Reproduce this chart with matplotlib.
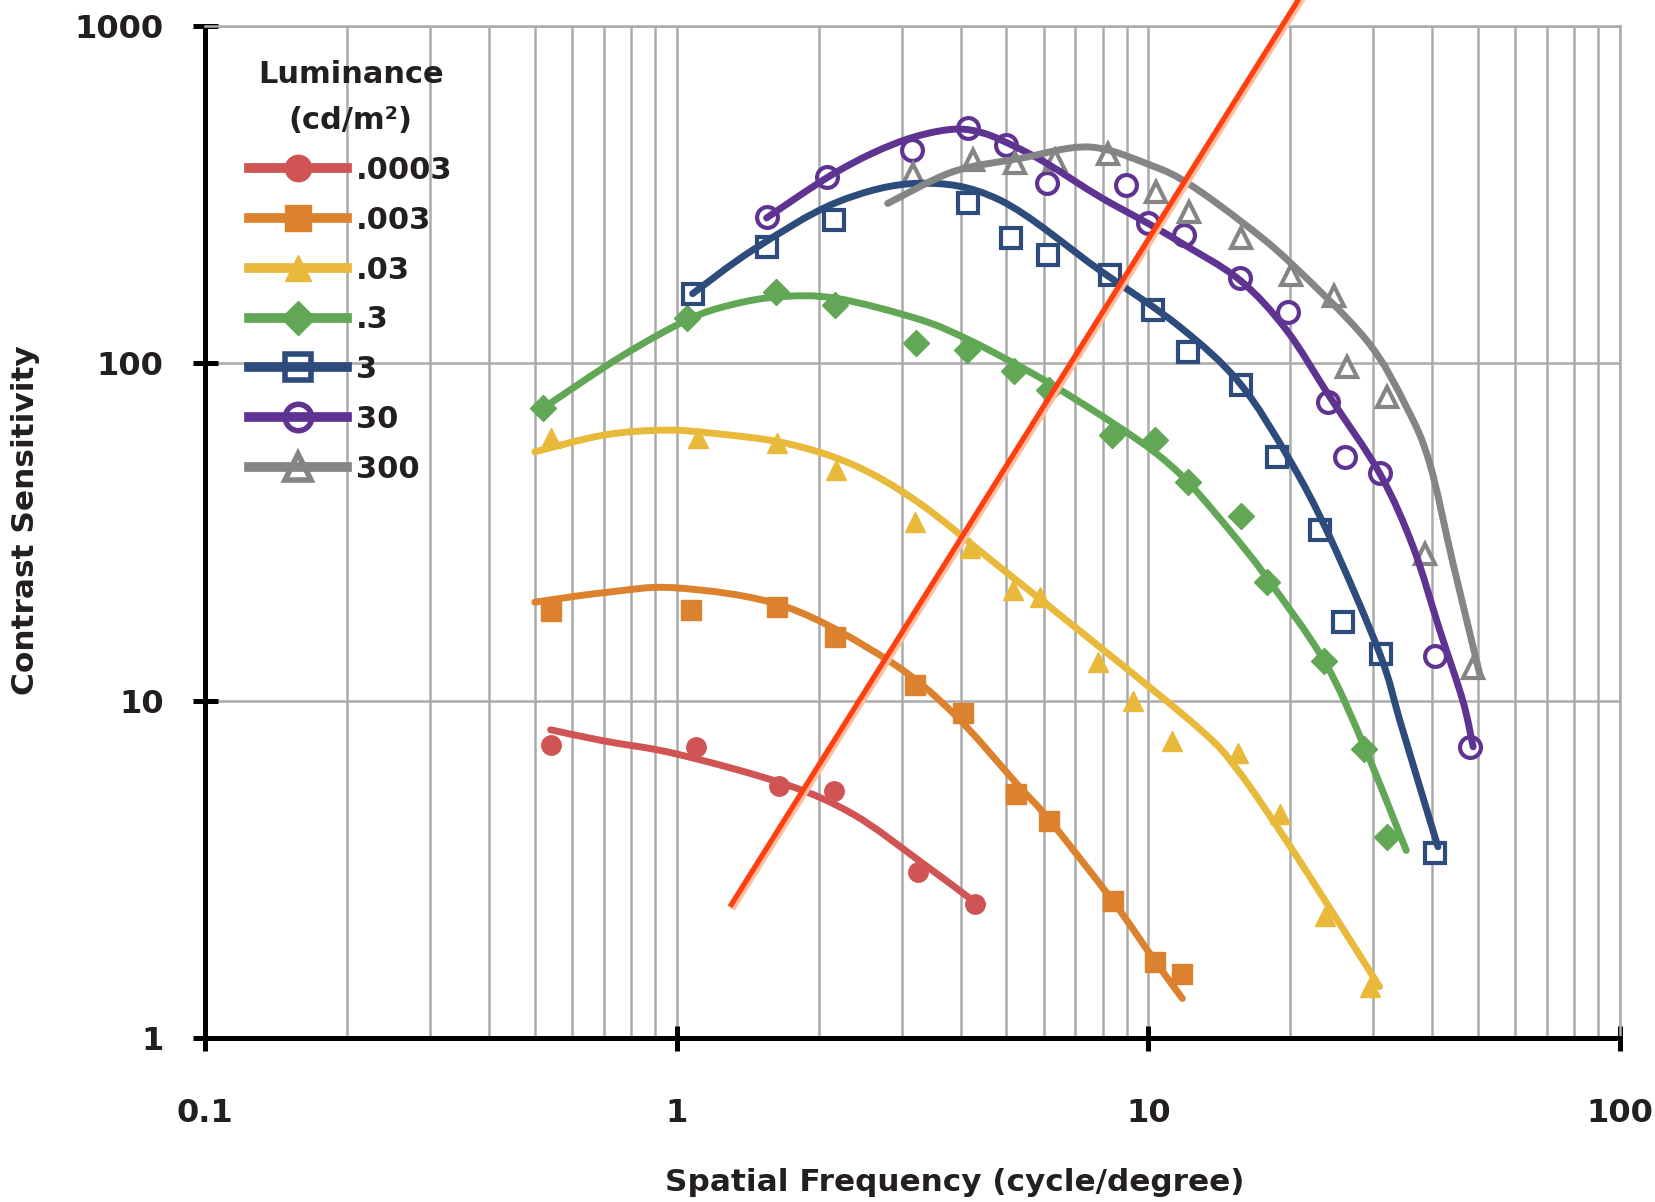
import matplotlib
matplotlib.use("Agg")
import numpy as np
import matplotlib.pyplot as plt
import matplotlib.patheffects as pe
from matplotlib.lines import Line2D
from matplotlib.path import Path
from matplotlib.patches import PathPatch
from matplotlib.legend_handler import HandlerTuple
from matplotlib.ticker import LogLocator, NullFormatter, NullLocator

plt.rcParams['font.family'] = ['DejaVu Sans']
plt.rcParams['font.weight'] = 'bold'

TXT = '#231f20'

# luminance levels (cd/m2) used as legend labels
labels = ['.0003', '.003', '.03', '.3', '3', '30', '300']
colors = ['#d05454', '#dc822e', '#e8b93a', '#62a755', '#2d4b7b', '#5f3391', '#858585']
markers = ['o', 's', '^', 'D', 's', 'o', '^']
filled = [True, True, True, True, False, False, False]

# measured points: spatial frequency (cycle/deg) and contrast sensitivity
x_0003 = [0.54, 1.10, 1.65, 2.15, 3.25, 4.28]
y_0003 = [7.4, 7.3, 5.6, 5.4, 3.1, 2.5]
x_003 = [0.54, 1.07, 1.63, 2.16, 3.2, 4.05, 5.25, 6.15, 8.4, 10.3, 11.8]
y_003 = [18.4, 18.6, 19.0, 15.4, 11.1, 9.2, 5.3, 4.4, 2.55, 1.68, 1.55]
x_03 = [0.54, 1.11, 1.63, 2.18, 3.2, 4.18, 5.16, 5.88, 7.82, 9.28, 11.2, 15.5, 19.0, 23.7, 29.5]
y_03 = [59.9, 59.9, 57.9, 48.3, 33.9, 28.4, 21.3, 20.3, 13.0, 10.0, 7.6, 7.0, 4.6, 2.3, 1.42]
x_3e = [0.52, 1.05, 1.62, 2.16, 3.21, 4.13, 5.19, 6.15, 8.38, 10.3, 12.1, 15.7, 17.8, 23.6, 28.7, 32.0]
y_3e = [73.6, 136, 163, 149, 115, 109.5, 95, 83.5, 61.3, 59.1, 44.6, 35.3, 22.5, 13.1, 7.2, 3.95]
x_3 = [1.08, 1.55, 2.15, 4.15, 5.12, 6.13, 8.28, 10.2, 12.1, 15.7, 18.7, 23.1, 25.9, 31.1, 40.5]
y_3 = [161, 222, 266, 298, 235, 209.5, 182.7, 144, 108, 86.2, 52.9, 32.1, 17.1, 13.8, 3.53]
x_30 = [1.55, 2.08, 3.15, 4.14, 5.0, 6.08, 8.98, 9.98, 11.9, 15.6, 19.8, 24.0, 26.1, 30.9, 40.5, 48.0]
y_30 = [272, 357, 430, 500, 443, 342, 338, 260, 240, 178.6, 142, 76.9, 52.9, 47.2, 13.6, 7.3]
x_300 = [3.17, 4.25, 5.21, 6.33, 8.21, 10.4, 12.2, 15.7, 20.1, 24.7, 26.3, 32.0, 38.5, 48.8]
y_300 = [365, 400, 392, 401, 419, 323, 281, 235, 183, 158, 97.7, 79.6, 27.3, 12.5]

# fitted curves
fx_0003 = [0.54, 0.70, 1.0, 1.7, 2.37, 3.27, 4.25]
fy_0003 = [8.2, 7.6, 6.95, 5.65, 4.6, 3.35, 2.55]
fx_003 = [0.5, 0.7, 1.0, 1.7, 2.8, 3.85, 5.3, 6.15, 8.4, 10.3, 11.8]
fy_003 = [19.6, 20.9, 21.6, 19.0, 13.2, 9.2, 5.6, 4.45, 2.55, 1.7, 1.31]
fx_03 = [0.5, 0.7, 0.94, 1.2, 1.7, 2.37, 3.27, 4.84, 7.9, 12.9, 15.5, 19.6, 24.6, 30.9]
fy_03 = [54.7, 61.3, 63.4, 62, 58, 50, 38.5, 24.9, 14.4, 8.2, 6.2, 3.85, 2.35, 1.42]
fx_3e = [0.52, 0.76, 1.05, 1.3, 1.65, 2.18, 3.27, 4.13, 5.19, 6.28, 8.48, 10.4, 12.2, 15.0, 17.8, 23.6, 28.7, 35.2]
fy_3e = [73.6, 104.6, 134.4, 149, 157.6, 155.9, 135, 118, 100, 86, 66, 54, 44.1, 31.5, 23.2, 13.1, 7.3, 3.6]
fx_3 = [1.08, 1.45, 2.18, 3.27, 4.84, 7.88, 11.65, 15.62, 19.93, 24.23, 30.93, 34.1, 37.6, 41.1]
fy_3 = [161, 217, 300, 342, 305, 189, 128.4, 87.3, 51.7, 30.6, 13.8, 8.76, 5.56, 3.69]
fx_30 = [1.55, 2.08, 2.6, 3.2, 3.9, 4.5, 5.2, 6.08, 7.88, 9.98, 11.65, 15.62, 19.61, 24.23, 30.93, 36.4, 41.45, 46.4, 48.8]
fy_30 = [270, 355, 420, 470, 495, 480, 440, 392, 312, 260, 229, 176.6, 125.6, 79.6, 47.2, 28.6, 16.2, 10.0, 7.3]
fx_300 = [2.8, 3.85, 5.33, 7.51, 10.2, 12.2, 15.8, 19.9, 28.98, 35.24, 39.48, 44.24, 50.4]
fy_300 = [298, 370, 405, 438, 385, 340, 262, 200, 117.3, 74.3, 50.5, 25.5, 12.0]

# straight red line drawn over the chart
line_x = [1.296, 21.5]
line_y = [2.45, 1290]

xs = [x_0003, x_003, x_03, x_3e, x_3, x_30, x_300]
ys = [y_0003, y_003, y_03, y_3e, y_3, y_30, y_300]
fxs = [fx_0003, fx_003, fx_03, fx_3e, fx_3, fx_30, fx_300]
fys = [fy_0003, fy_003, fy_03, fy_3e, fy_3, fy_30, fy_300]


def smooth_line(ax, x, y, color):
    # smoothed line through the points (bezier segments in log-log space)
    p = np.column_stack([np.log10(x), np.log10(y)])
    ext = np.vstack([p[0], p, p[-1]])
    verts = [p[0]]
    codes = [Path.MOVETO]
    for i in range(len(p) - 1):
        c1 = ext[i + 1] + (ext[i + 2] - ext[i]) / 6
        c2 = ext[i + 2] - (ext[i + 3] - ext[i + 1]) / 6
        verts += [c1, c2, ext[i + 2]]
        codes += [Path.CURVE4] * 3
    verts = 10 ** np.array(verts)
    patch = PathPatch(Path(verts, codes), fill=False, edgecolor=color, lw=5,
                      capstyle='round', joinstyle='round', zorder=4)
    ax.add_patch(patch)


fig = plt.figure(figsize=(16.55, 12.02), dpi=100)
ax = fig.add_axes([0.124, 0.1364, 0.8549, 0.8419])
ax.set_xscale('log')
ax.set_yscale('log')
ax.set_xlim(0.1, 100)
ax.set_ylim(1, 1000)

handles = []
for i in range(len(labels)):
    c = colors[i]
    face = c if filled[i] else 'white'
    ms = 14 if filled[i] else 15
    if markers[i] == 'D':
        ms = 13
    ax.plot(xs[i], ys[i], ls='none', marker=markers[i], ms=ms, mfc=face, mec=c,
            mew=3 if not filled[i] else 1, zorder=3)
    smooth_line(ax, fxs[i], fys[i], c)
    mk = Line2D([], [], ls='none', marker=markers[i], ms=19 if markers[i] != 'D' else 17,
                mfc=face, mec=c, mew=4 if not filled[i] else 1)
    ln = Line2D([], [], color=c, lw=7)
    handles.append((mk, ln))

ax.plot(line_x, line_y, color='#ff3f0f', lw=3.8, zorder=6, clip_on=False,
        solid_capstyle='butt',
        path_effects=[pe.SimpleLineShadow(offset=(1.8, -1.8), shadow_color='#ffbf9f', alpha=1),
                      pe.Normal()])

ax.set_xticks([0.1, 1, 10, 100])
ax.set_xticklabels(['0.1', '1', '10', '100'])
ax.set_yticks([1, 10, 100, 1000])
ax.set_yticklabels(['1', '10', '100', '1000'])
ax.xaxis.set_minor_locator(LogLocator(base=10, subs=(2, 3, 4, 5, 6, 7, 8, 9)))
ax.xaxis.set_minor_formatter(NullFormatter())
ax.yaxis.set_minor_locator(NullLocator())
ax.tick_params(which='major', direction='inout', length=18, width=3.6, color='black',
               labelsize=23, labelcolor=TXT)
ax.tick_params(which='minor', length=0)
ax.tick_params(axis='x', pad=34)
ax.tick_params(axis='y', pad=21)

ax.grid(True, which='both', axis='x', color='#ababab', lw=1.8)
ax.grid(True, which='major', axis='y', color='#ababab', lw=1.8)
ax.set_axisbelow(True)

for s in ['left', 'bottom']:
    ax.spines[s].set_color('black')
    ax.spines[s].set_linewidth(3.6)
for s in ['top', 'right']:
    ax.spines[s].set_color('#ababab')
    ax.spines[s].set_linewidth(1.8)

ax.set_xlabel('Spatial Frequency (cycle/degree)', fontsize=22.4, color=TXT, fontweight='bold')
ax.xaxis.set_label_coords(0.530, -0.1423)
ax.xaxis.label.set_va('center')
ax.set_ylabel('Contrast Sensitivity', fontsize=22.5, color=TXT, fontweight='bold')
ax.yaxis.set_label_coords(-0.1267, 0.512)
ax.yaxis.label.set_va('center')
ax.yaxis.label.set_ha('center')

leg = ax.legend(handles, labels, handler_map={tuple: HandlerTuple(ndivide=1, pad=0)},
                title='Luminance\n(cd/m²)', loc='upper left',
                bbox_to_anchor=(249 / 1655, 1 - 60 / 1202), bbox_transform=fig.transFigure,
                frameon=False, fontsize=22, title_fontsize=22, handlelength=3.2,
                handletextpad=0.3, labelspacing=0.68, borderpad=0, borderaxespad=0)
leg.get_title().set_color(TXT)
leg.get_title().set_linespacing(1.75)
leg.get_title().set_multialignment('center')
for t in leg.get_texts():
    t.set_color(TXT)

fig.savefig('out.png', dpi=100)
